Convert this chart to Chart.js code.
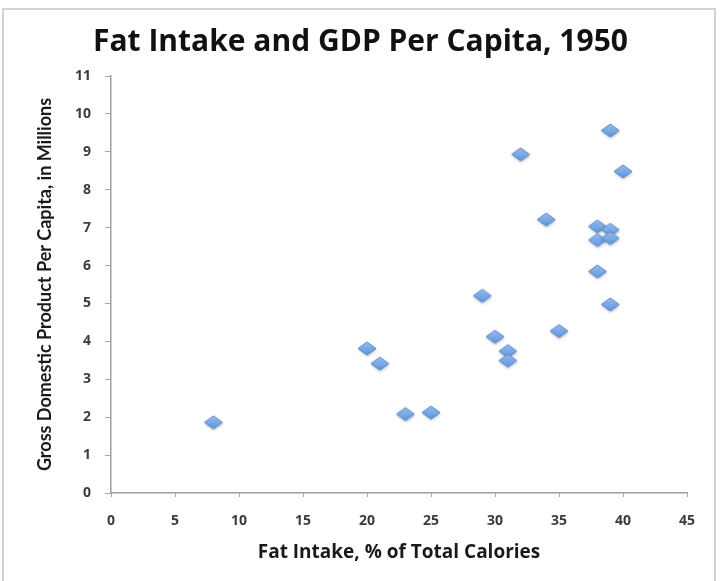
<!DOCTYPE html>
<html>
<head>
<meta charset="utf-8">
<script src="https://cdn.jsdelivr.net/npm/chart.js@4.4.1/dist/chart.umd.min.js"></script>
<style>
  html, body { margin: 0; padding: 0; background: #ffffff; }
  #wrap { position: relative; width: 721px; height: 581px; overflow: hidden; }
  #frame { position: absolute; left: 2px; top: 8px; width: 714px; height: 580px;
           border: 2px solid #d3d3d3; box-sizing: border-box; pointer-events: none; }
  canvas { position: absolute; left: 0; top: 0; }
</style>
</head>
<body>
<div id="wrap">
  <canvas id="chart" width="721" height="581"></canvas>
  <div id="frame"></div>
</div>
<script>
// Fat intake (% of total calories) per country
const fatIntake = [8, 20, 21, 23, 25, 29, 30, 31, 31, 32, 34, 35, 38, 38, 38, 39, 39, 39, 39, 40];
// GDP per capita, in millions
const gdpPerCapita = [1.85, 3.8, 3.4, 2.07, 2.11, 5.19, 4.11, 3.73, 3.48, 8.92, 7.2, 4.26, 5.83, 7.02, 6.66, 9.55, 6.93, 6.71, 4.96, 8.47];

const xTicks = [0, 5, 10, 15, 20, 25, 30, 35, 40, 45];
const yTicks = [0, 1, 2, 3, 4, 5, 6, 7, 8, 9, 10, 11];

const chartTitle = 'Fat Intake and GDP Per Capita, 1950';
const xTitle = 'Fat Intake, % of Total Calories';
const yTitle = 'Gross Domestic Product Per Capita, in Millions';

// Shaded diamond marker drawn once on an offscreen canvas
function makeDiamond() {
  const c = document.createElement('canvas');
  c.width = 26; c.height = 20;
  const g = c.getContext('2d');
  const cx = 13, cy = 9.5, hw = 9, hh = 6.5;
  const path = () => {
    g.beginPath();
    g.moveTo(cx, cy - hh);
    g.lineTo(cx + hw, cy);
    g.lineTo(cx, cy + hh);
    g.lineTo(cx - hw, cy);
    g.closePath();
  };
  g.save();
  g.shadowColor = 'rgba(60,80,110,0.4)';
  g.shadowBlur = 3;
  g.shadowOffsetX = 0.5;
  g.shadowOffsetY = 1.5;
  path();
  const grad = g.createLinearGradient(0, cy - hh, 0, cy + hh);
  grad.addColorStop(0, '#94bcef');
  grad.addColorStop(1, '#6096dc');
  g.fillStyle = grad;
  g.fill();
  g.restore();
  path();
  g.lineWidth = 1;
  g.strokeStyle = 'rgba(80,128,196,0.85)';
  g.stroke();
  return c;
}

const points = fatIntake.map((x, i) => ({ x: x, y: gdpPerCapita[i] }));
const marker = makeDiamond();

new Chart(document.getElementById('chart'), {
  type: 'scatter',
  data: {
    datasets: [{
      data: points,
      pointStyle: marker,
      pointRadius: 9,
      pointHoverRadius: 9
    }]
  },
  options: {
    responsive: false,
    animation: false,
    events: [],
    layout: { padding: { left: 34, right: 34, top: 0, bottom: 10 } },
    plugins: {
      legend: { display: false },
      tooltip: { enabled: false },
      title: {
        display: true,
        text: chartTitle,
        color: '#111111',
        font: { family: 'Open Sans', size: 30, weight: 'bold' },
        padding: { top: 24, bottom: 16 }
      }
    },
    scales: {
      x: {
        type: 'linear',
        min: 0,
        max: 45,
        afterBuildTicks: (s) => { s.ticks = xTicks.map(v => ({ value: v })); },
        afterFit: (s) => { s.height = 78; },
        border: { display: true, color: '#a0a0a0', width: 1.5 },
        grid: { display: true, drawOnChartArea: false, drawTicks: true, tickLength: 4, color: '#a8a8a8' },
        ticks: {
          color: '#3c3c3c',
          padding: 16,
          font: { family: 'Open Sans', size: 14, weight: 'bold' }
        },
        title: {
          display: true,
          text: xTitle,
          color: '#1a1a1a',
          font: { family: 'Open Sans', size: 19, weight: 'bold' },
          padding: { top: 0, bottom: 7 }
        }
      },
      y: {
        type: 'linear',
        min: 0,
        max: 11,
        afterBuildTicks: (s) => { s.ticks = yTicks.map(v => ({ value: v })); },
        afterFit: (s) => { s.width = 77; },
        border: { display: true, color: '#a0a0a0', width: 1.5 },
        grid: { display: true, drawOnChartArea: false, drawTicks: true, tickLength: 6, color: '#a8a8a8' },
        ticks: {
          color: '#3c3c3c',
          padding: 14,
          font: { family: 'Open Sans', size: 14, weight: 'bold' }
        },
        title: {
          display: true,
          text: yTitle,
          color: '#1a1a1a',
          font: { family: 'Lato', size: 18, weight: 'bold' },
          padding: { top: 0, bottom: 0 }
        }
      }
    }
  }
});
</script>
</body>
</html>
